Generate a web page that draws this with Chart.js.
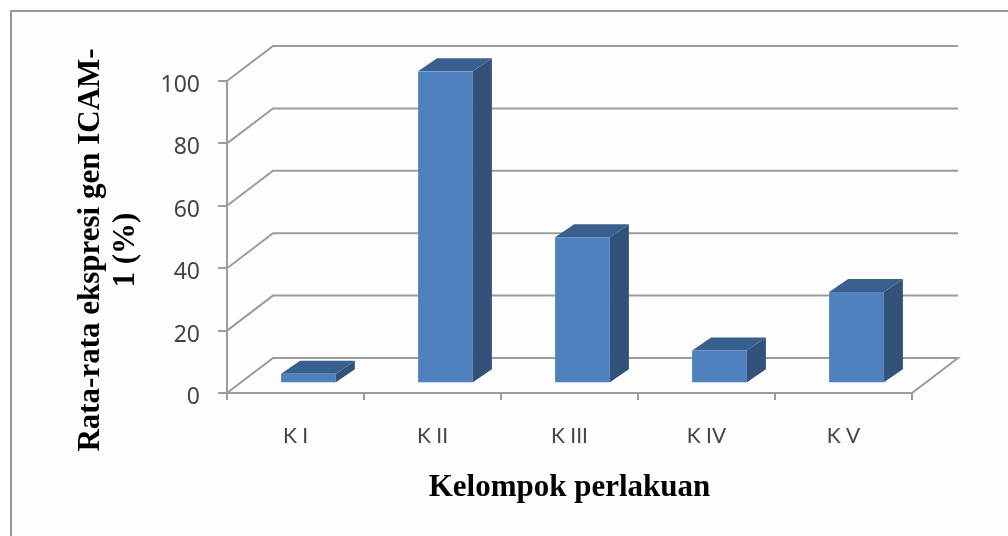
<!DOCTYPE html>
<html>
<head>
<meta charset="utf-8">
<title>Rata-rata ekspresi gen ICAM-1</title>
<script src="https://cdn.jsdelivr.net/npm/chart.js@4"></script>
<style>
    html, body { margin: 0; background: #fff; }
    #frame { position: absolute; left: 10px; top: 10px; right: 0; bottom: 0; border-left: 2px solid #999; border-top: 2px solid #999; background: #fdfdfd; }
    #chart { position: absolute; left: 0; top: 0; }
</style>
</head>
<body>
<div id="frame"></div>
<canvas id="chart" width="1008" height="536"></canvas>
<script>
const categories = ["K I", "K II", "K III", "K IV", "K V"];
const ekspresi = [3, 100, 46.8, 10.5, 29.2];
const yTitleLines = ["Rata-rata ekspresi gen ICAM-", "1 (%)"];
const xTitle = "Kelompok perlakuan";

const colorFront = "#4f81bd", colorSide = "#32527a", colorTop = "#385f8e", colorLine = "#9c9c9c";

// depth of the back wall and of the bars, and where the bars stand on the floor
const wallDepth = { x: 46, y: -35 };
const barDepth = { x: 19, y: -13 };
const barShift = { x: 13, y: -9.8 };

const polygon = (ctx, color, points) => {
    ctx.fillStyle = color;
    ctx.beginPath();
    points.forEach(([x, y]) => ctx.lineTo(x, y));
    ctx.closePath();
    ctx.fill();
};

const wallPlugin = {
    id: "wall",
    beforeDatasetsDraw(chart) {
        const { ctx, chartArea, scales: { y } } = chart;
        ctx.save();
        ctx.strokeStyle = colorLine;
        ctx.lineWidth = 2;
        y.ticks.forEach((tick) => {
            const py = y.getPixelForValue(tick.value);
            ctx.beginPath();
            ctx.moveTo(chartArea.left, py);
            ctx.lineTo(chartArea.left + wallDepth.x, py + wallDepth.y);
            ctx.lineTo(chartArea.right + wallDepth.x, py + wallDepth.y);
            if (tick.value === 0) ctx.lineTo(chartArea.right, py);
            ctx.stroke();
        });
        ctx.restore();
    },
};

// the library draws the front face, shifted back onto the floor; side and top go behind it
const boxPlugin = {
    id: "box",
    beforeDatasetDraw(chart, args) {
        const { ctx } = chart;
        ctx.save();
        ctx.translate(barShift.x, barShift.y);
        args.meta.data.forEach((bar) => {
            const { x, y, base, width } = bar.getProps(["x", "y", "base", "width"], true);
            const left = x - width / 2, right = x + width / 2;
            polygon(ctx, colorSide, [
                [right, y], [right + barDepth.x, y + barDepth.y],
                [right + barDepth.x, base + barDepth.y], [right, base],
            ]);
            polygon(ctx, colorTop, [
                [left, y], [left + barDepth.x, y + barDepth.y],
                [right + barDepth.x, y + barDepth.y], [right, y],
            ]);
        });
    },
    afterDatasetDraw(chart) {
        chart.ctx.restore();
    },
};

const yTitlePlugin = {
    id: "yTitle",
    afterDraw(chart) {
        const { ctx } = chart;
        ctx.save();
        ctx.translate(108, 250);
        ctx.rotate(-Math.PI / 2);
        ctx.font = "bold 31px 'Liberation Serif'";
        ctx.fillStyle = "#000";
        ctx.textAlign = "center";
        ctx.textBaseline = "middle";
        yTitleLines.forEach((line, i) => ctx.fillText(line, 0, (i - 0.5) * 35));
        ctx.restore();
    },
};

// value labels sit a little under their tick marks
const nudgeLabels = (scale, dy) => {
    const drawLabels = scale.drawLabels;
    scale.drawLabels = function (area) {
        this.ctx.save();
        this.ctx.translate(0, dy);
        drawLabels.call(this, area);
        this.ctx.restore();
    };
};

const chart = new Chart(document.getElementById("chart").getContext("2d"), {
    type: "bar",
    data: {
        labels: categories,
        datasets: [
            {
                data: ekspresi,
                backgroundColor: colorFront,
                barPercentage: 1,
                categoryPercentage: 0.4,
            },
        ],
    },
    plugins: [wallPlugin, boxPlugin, yTitlePlugin],
    options: {
        responsive: false,
        animation: false,
        layout: { padding: { left: 0, right: 96, top: 81, bottom: 0 } },
        plugins: { legend: { display: false }, tooltip: { enabled: false } },
        scales: {
            x: {
                afterFit: (scale) => { scale.height = 143; },
                grid: { drawOnChartArea: false, color: colorLine, lineWidth: 2, tickLength: 7 },
                border: { color: colorLine, width: 2 },
                ticks: { color: "#444", padding: 24, maxRotation: 0, font: { family: "Lato", size: 21 } },
                title: {
                    display: true,
                    text: xTitle,
                    color: "#000",
                    padding: { top: 0, bottom: 29 },
                    font: { family: "Liberation Serif", size: 31, weight: "bold" },
                },
            },
            y: {
                min: 0,
                max: 100,
                afterFit: (scale) => { scale.width = 227; },
                grid: { drawOnChartArea: false, color: colorLine, lineWidth: 2, tickLength: 9 },
                border: { color: colorLine, width: 2 },
                ticks: { stepSize: 20, color: "#444", padding: 18, font: { family: "Noto Sans", size: 23 } },
            },
        },
    },
});

nudgeLabels(chart.scales.y, 4.5);
chart.draw();
</script>
</body>
</html>
